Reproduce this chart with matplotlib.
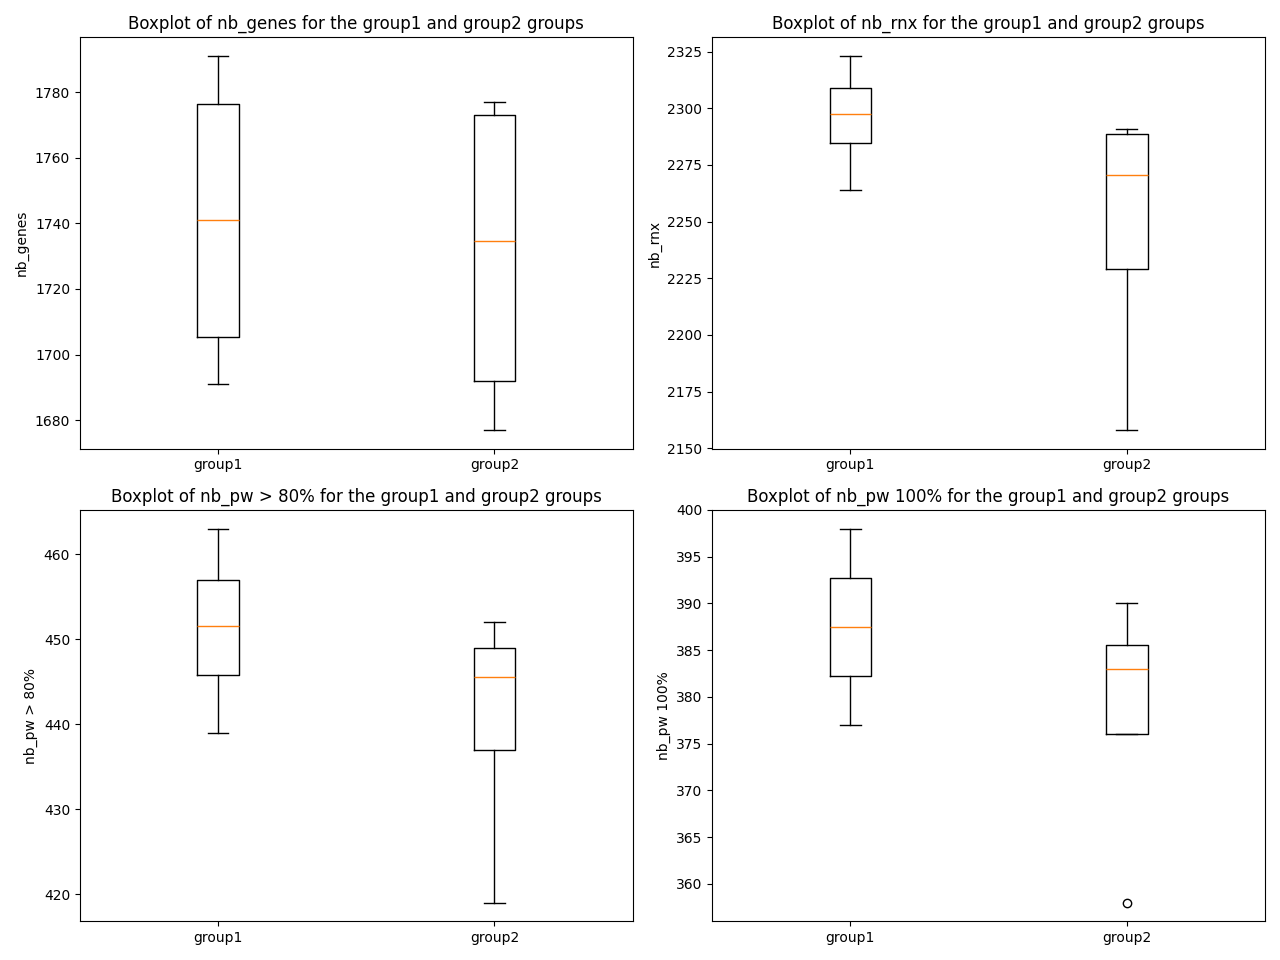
import matplotlib
matplotlib.use("Agg")
import matplotlib.pyplot as plt

groups = ["group1", "group2"]
metrics = ["nb_genes", "nb_rnx", "nb_pw > 80%", "nb_pw 100%"]

# five-number summaries: whislo, q1, med, q3, whishi
whislo = [[1691, 1677], [2264, 2158], [439, 419], [377, 376]]
q1 = [[1705.5, 1692], [2284.5, 2229], [445.8, 437], [382.2, 376]]
med = [[1741, 1734.5], [2297.5, 2270.5], [451.5, 445.5], [387.5, 383]]
q3 = [[1776.5, 1773], [2309, 2288.5], [457, 449], [392.7, 385.5]]
whishi = [[1791, 1777], [2323, 2291], [463, 452], [398, 390]]
fliers = [[[], []], [[], []], [[], []], [[], [358]]]

fig, axes = plt.subplots(2, 2, figsize=(12.8, 9.6), dpi=100)
for i, ax in enumerate(axes.flat):
    stats = []
    for j, g in enumerate(groups):
        stats.append({"label": g, "whislo": whislo[i][j], "q1": q1[i][j],
                      "med": med[i][j], "q3": q3[i][j], "whishi": whishi[i][j],
                      "fliers": fliers[i][j]})
    ax.bxp(stats)
    ax.set_title("Boxplot of {} for the group1 and group2 groups".format(metrics[i]))
    ax.set_ylabel(metrics[i])

plt.tight_layout()
plt.savefig("out.png")
